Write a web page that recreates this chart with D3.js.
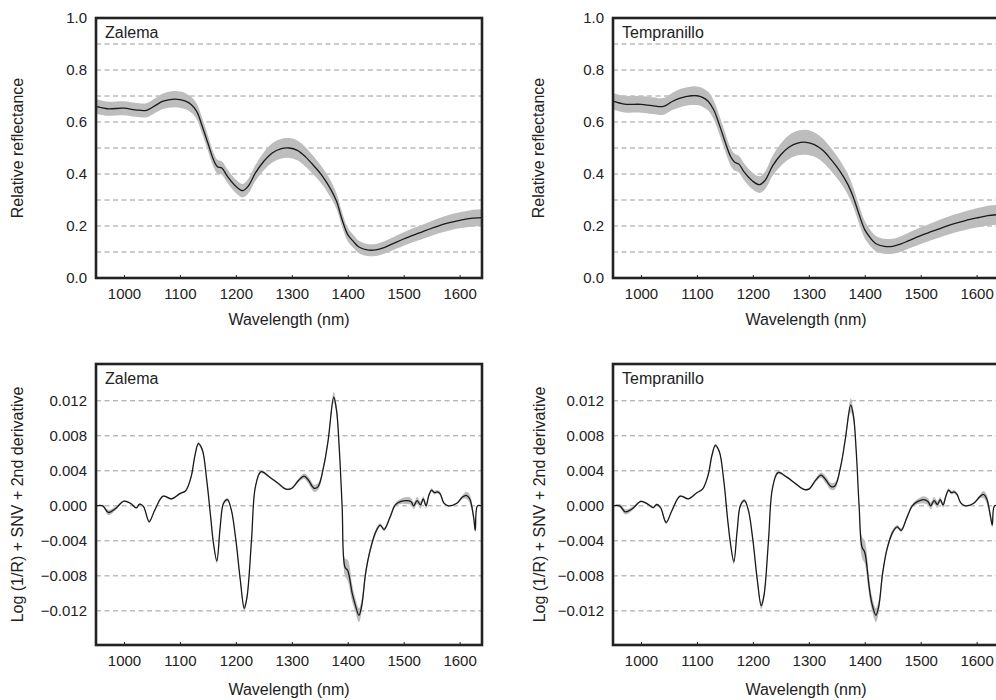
<!DOCTYPE html>
<html>
<head>
<meta charset="utf-8">
<script src="https://cdn.jsdelivr.net/npm/d3@7"></script>
<style>
  html, body { margin: 0; padding: 0; background: #fff; }
  svg { display: block; }
  text { font-family: "Liberation Sans", Arial, sans-serif; fill: #222; }
</style>
</head>
<body>
<svg id="chart" width="996" height="700"></svg>
<script>
// ---------------- DATA ----------------
const xTicks = [1000, 1100, 1200, 1300, 1400, 1500, 1600];
const reflTicks = [0.0, 0.2, 0.4, 0.6, 0.8, 1.0];
const reflGrid = [0.1, 0.2, 0.3, 0.4, 0.5, 0.6, 0.7, 0.8, 0.9];
const derivTicks = [-0.012, -0.008, -0.004, 0.000, 0.004, 0.008, 0.012];

const wlRefl = [950,970,1000,1020,1040,1055,1070,1090,1100,1110,1120,1130,1140,1150,1160,1167,1175,1185,1200,1212,1222,1235,1250,1265,1280,1295,1310,1325,1340,1355,1370,1380,1390,1400,1410,1420,1435,1450,1465,1480,1500,1520,1540,1560,1580,1600,1620,1640];

const zalemaRefl = [0.660,0.651,0.653,0.647,0.645,0.662,0.680,0.688,0.686,0.680,0.667,0.641,0.583,0.519,0.455,0.428,0.423,0.391,0.353,0.336,0.353,0.404,0.449,0.481,0.497,0.500,0.491,0.465,0.430,0.391,0.340,0.295,0.224,0.167,0.141,0.119,0.108,0.108,0.117,0.131,0.150,0.167,0.183,0.199,0.212,0.222,0.229,0.232];
const zalemaReflSd = [0.028,0.027,0.027,0.027,0.027,0.028,0.030,0.031,0.031,0.031,0.030,0.030,0.030,0.030,0.028,0.027,0.026,0.026,0.026,0.026,0.028,0.031,0.035,0.037,0.038,0.038,0.038,0.037,0.035,0.033,0.032,0.030,0.028,0.026,0.025,0.024,0.023,0.023,0.024,0.025,0.026,0.027,0.028,0.029,0.030,0.031,0.032,0.032];

const tempRefl = [0.680,0.669,0.668,0.663,0.660,0.678,0.692,0.701,0.701,0.695,0.680,0.647,0.590,0.526,0.468,0.446,0.438,0.406,0.372,0.359,0.376,0.430,0.474,0.504,0.519,0.522,0.513,0.491,0.455,0.413,0.359,0.308,0.244,0.186,0.154,0.132,0.122,0.122,0.131,0.145,0.163,0.179,0.195,0.209,0.221,0.231,0.240,0.244];
const tempReflSd = [0.032,0.032,0.032,0.032,0.032,0.033,0.035,0.036,0.036,0.036,0.036,0.036,0.036,0.036,0.034,0.033,0.032,0.032,0.032,0.032,0.034,0.038,0.043,0.046,0.047,0.048,0.047,0.046,0.044,0.042,0.040,0.038,0.035,0.033,0.031,0.030,0.029,0.029,0.030,0.031,0.032,0.033,0.034,0.035,0.036,0.037,0.038,0.038];

const wlDeriv = [950,962,972,985,1000,1012,1022,1028,1035,1045,1055,1070,1085,1100,1110,1120,1127,1133,1140,1148,1155,1160,1166,1172,1178,1185,1192,1200,1208,1215,1220,1228,1235,1245,1260,1275,1290,1300,1312,1322,1330,1340,1347,1357,1365,1375,1380,1385,1390,1395,1400,1408,1413,1420,1425,1432,1440,1450,1458,1465,1475,1485,1495,1505,1513,1518,1524,1530,1535,1540,1545,1550,1555,1560,1565,1572,1580,1595,1605,1612,1618,1625,1628,1632,1640];

const zalemaDeriv = [0,0,-0.00076,-0.0003,0.00053,0.00027,-0.00023,0.0002,-0.0001,-0.0018,-0.0005,0.0011,0.0008,0.0014,0.0017,0.0033,0.0058,0.0071,0.0064,0.0029,-0.0013,-0.0043,-0.0063,-0.0024,0.0003,0.0007,-0.0005,-0.0039,-0.0085,-0.0117,-0.0104,-0.0039,0.0022,0.0039,0.0033,0.0026,0.0019,0.0020,0.0029,0.0034,0.0029,0.0020,0.0022,0.0045,0.0075,0.0124,0.0109,0.0064,-0.0001,-0.0070,-0.0074,-0.0100,-0.0112,-0.0125,-0.0114,-0.0077,-0.0051,-0.0030,-0.0022,-0.0027,-0.0014,0.0001,0.0005,0.0006,0.0005,0,0.0006,0.0001,0.0008,0,0.0012,0.0018,0.0015,0.0016,0.0014,0.0003,0,0.0003,0.0010,0.0012,0.0008,-0.0013,-0.0028,0,0];
const zalemaDerivSd = [0,0.0001,0.0003,0.0002,0.0001,0.0001,0.0001,0.0001,0.0001,0.0002,0.0001,0.0001,0.0001,0.0001,0.0001,0.0002,0.0002,0.0002,0.0002,0.0002,0.0002,0.0002,0.0003,0.0002,0.0002,0.0002,0.0002,0.0002,0.0003,0.0004,0.0004,0.0002,0.0002,0.0002,0.0001,0.0001,0.0001,0.0001,0.0002,0.0003,0.0004,0.0004,0.0004,0.0003,0.0003,0.0006,0.0005,0.0003,0.0003,0.0010,0.0012,0.0010,0.0008,0.0008,0.0007,0.0005,0.0003,0.0003,0.0002,0.0002,0.0002,0.0002,0.0003,0.0004,0.0004,0.0004,0.0004,0.0004,0.0003,0.0003,0.0002,0.0002,0.0002,0.0002,0.0002,0.0001,0.0001,0.0001,0.0002,0.0004,0.0005,0.0004,0.0003,0,0];

const tempDeriv = [0,0,-0.0007,-0.0003,0.0005,0.0002,-0.0002,0.00015,-0.0002,-0.0019,-0.0006,0.0011,0.0008,0.0015,0.0019,0.0035,0.0058,0.0069,0.0062,0.0029,-0.0016,-0.0043,-0.0064,-0.0028,0.0001,0.0006,-0.0005,-0.0039,-0.0085,-0.0114,-0.0102,-0.0039,0.0020,0.0038,0.0033,0.0026,0.0019,0.0019,0.0029,0.0035,0.0030,0.0022,0.0023,0.0045,0.0075,0.0115,0.0102,0.0060,-0.0001,-0.0047,-0.0053,-0.0093,-0.0112,-0.0125,-0.0115,-0.0077,-0.0049,-0.0030,-0.0024,-0.0028,-0.0014,0,0.0005,0.0007,0.0005,0,0.0006,0.00015,0.0007,0.0001,0.0011,0.0018,0.0015,0.0016,0.0013,0.0003,0,0.0003,0.0010,0.0013,0.0008,-0.0013,-0.0022,0,0];
const tempDerivSd = [0,0.0002,0.0003,0.0002,0.0001,0.0001,0.0001,0.0001,0.0001,0.0002,0.0001,0.0001,0.0001,0.0001,0.0001,0.0002,0.0002,0.0002,0.0002,0.0002,0.0002,0.0002,0.0003,0.0002,0.0002,0.0002,0.0002,0.0002,0.0003,0.0004,0.0004,0.0002,0.0002,0.0002,0.0001,0.0001,0.0001,0.0001,0.0002,0.0003,0.0004,0.0004,0.0004,0.0003,0.0003,0.0008,0.0006,0.0003,0.0003,0.0012,0.0013,0.0010,0.0008,0.0008,0.0007,0.0005,0.0003,0.0003,0.0002,0.0002,0.0002,0.0002,0.0003,0.0004,0.0004,0.0004,0.0004,0.0004,0.0003,0.0003,0.0002,0.0002,0.0002,0.0002,0.0002,0.0001,0.0001,0.0001,0.0002,0.0004,0.0005,0.0004,0.0003,0,0];

// ---------------- DRAW ----------------
const svg = d3.select("#chart");
const xDomain = [950, 1640];

const panels = [
  { left: 96,  right: 482, top: 18,  bottom: 278, title: "Zalema",      wl: wlRefl,  mean: zalemaRefl, sd: zalemaReflSd, yDomain: [0, 1], ticks: reflTicks, grid: reflGrid, fmt: d3.format(".1f"), ylabel: "Relative reflectance", ylabX: 18, xlabY: 320 },
  { left: 613, right: 999, top: 18,  bottom: 278, title: "Tempranillo", wl: wlRefl,  mean: tempRefl,   sd: tempReflSd,   yDomain: [0, 1], ticks: reflTicks, grid: reflGrid, fmt: d3.format(".1f"), ylabel: "Relative reflectance", ylabX: 539, xlabY: 320 },
  { left: 96,  right: 482, top: 364, bottom: 645, title: "Zalema",      wl: wlDeriv, mean: zalemaDeriv, sd: zalemaDerivSd, yDomain: [-0.0159, 0.0162], ticks: derivTicks, grid: derivTicks, fmt: d3.format(".3f"), ylabel: "Log (1/R) + SNV + 2nd derivative", ylabX: 18, xlabY: 690 },
  { left: 613, right: 999, top: 364, bottom: 645, title: "Tempranillo", wl: wlDeriv, mean: tempDeriv,   sd: tempDerivSd,   yDomain: [-0.0159, 0.0162], ticks: derivTicks, grid: derivTicks, fmt: d3.format(".3f"), ylabel: "Log (1/R) + SNV + 2nd derivative", ylabX: 540, xlabY: 690 }
];

panels.forEach(p => {
  const x = d3.scaleLinear().domain(xDomain).range([p.left, p.right]);
  const y = d3.scaleLinear().domain(p.yDomain).range([p.bottom, p.top]);
  const g = svg.append("g");

  // gridlines
  g.selectAll(".grid").data(p.grid).enter().append("line")
    .attr("x1", p.left).attr("x2", p.right)
    .attr("y1", d => y(d)).attr("y2", d => y(d))
    .attr("stroke", "#9a9a9a").attr("stroke-width", 1)
    .attr("stroke-dasharray", "5,3.5");

  const pts = p.wl.map((w, i) => ({ w, m: p.mean[i], s: p.sd[i] }));

  // band
  const area = d3.area().curve(d3.curveCatmullRom.alpha(0.5))
    .x(d => x(d.w)).y0(d => y(d.m - d.s)).y1(d => y(d.m + d.s));
  g.append("path").datum(pts).attr("d", area).attr("fill", "#bdbdbd");

  // mean line
  const line = d3.line().curve(d3.curveCatmullRom.alpha(0.5))
    .x(d => x(d.w)).y(d => y(d.m));
  g.append("path").datum(pts).attr("d", line)
    .attr("fill", "none").attr("stroke", "#1a1a1a").attr("stroke-width", 1.3);

  // x axis ticks (inward) + labels
  const xAxis = d3.axisBottom(x).tickValues(xTicks).tickFormat(d3.format("d"))
    .tickSizeInner(-3).tickSizeOuter(0).tickPadding(10);
  const xa = g.append("g").attr("transform", `translate(0,${p.bottom})`).call(xAxis);
  xa.select(".domain").remove();
  xa.selectAll("line").attr("stroke", "#222");
  xa.selectAll("text").attr("font-size", 15).attr("font-family", "Liberation Sans, Arial, sans-serif").attr("fill", "#222");

  // y axis labels
  const yAxis = d3.axisLeft(y).tickValues(p.ticks).tickFormat(p.fmt).tickSize(0).tickPadding(9);
  const ya = g.append("g").attr("transform", `translate(${p.left},0)`).call(yAxis);
  ya.select(".domain").remove();
  ya.selectAll("text").attr("font-size", 15).attr("font-family", "Liberation Sans, Arial, sans-serif").attr("fill", "#222");

  // frame
  g.append("rect").attr("x", p.left).attr("y", p.top)
    .attr("width", p.right - p.left).attr("height", p.bottom - p.top)
    .attr("fill", "none").attr("stroke", "#222").attr("stroke-width", 2.6);

  // title
  g.append("text").attr("x", p.left + 9).attr("y", p.top + 20)
    .attr("font-size", 16).text(p.title);

  // axis labels
  g.append("text").attr("x", (p.left + p.right) / 2).attr("y", p.xlabY + 5)
    .attr("text-anchor", "middle").attr("font-size", 16).text("Wavelength (nm)");
  g.append("text")
    .attr("transform", `translate(${p.ylabX + 5},${(p.top + p.bottom) / 2}) rotate(-90)`)
    .attr("text-anchor", "middle").attr("font-size", 16).text(p.ylabel);
});
</script>
</body>
</html>
